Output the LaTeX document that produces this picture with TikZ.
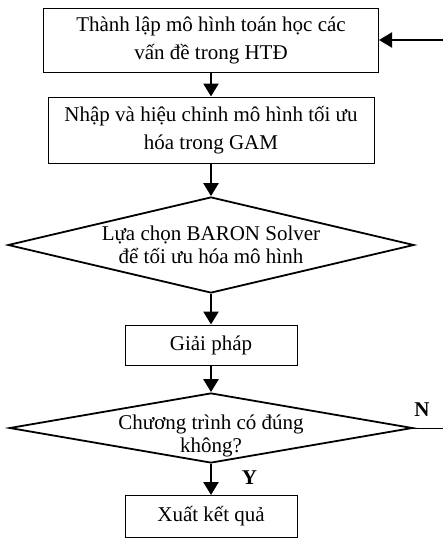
\documentclass[tikz,border=0pt]{standalone}
\usepackage{fontspec}
\setmainfont{Liberation Serif}
\usetikzlibrary{arrows.meta,shapes.geometric}
\tikzset{
  procbox/.style={draw,line width=1pt,inner sep=0pt,align=center,font=\fontsize{21}{28}\selectfont},
  decide/.style={draw,diamond,line width=1.8pt,inner sep=-8pt,align=center,font=\fontsize{21}{22.5}\selectfont},
  flow/.style={-{Triangle[length=13pt,width=15pt]},line width=2.5pt},
  yn/.style={font=\fontsize{21}{24}\selectfont\bfseries}
}
\begin{document}
\begin{tikzpicture}[x=1pt,y=-1pt]
\useasboundingbox (0,0) rectangle (443,539);
\node[procbox,minimum width=335pt,minimum height=64pt] (lap) at (211,40) {Thành lập mô hình toán học các\\vấn đề trong HTĐ};
\node[procbox,minimum width=326pt,minimum height=66pt] (nhap) at (211,130) {Nhập và hiệu chỉnh mô hình tối ưu\\hóa trong GAM};
\node[decide,shape aspect=4.23,minimum width=406pt,minimum height=96pt] (chon) at (211,245) {Lựa chọn BARON Solver\\để tối ưu hóa mô hình};
\node[procbox,minimum width=172pt,minimum height=40pt] (giai) at (211,345) {Giải pháp};
% text of this diamond sits a little low
\node[decide,shape aspect=5.76,minimum width=403pt,minimum height=70pt,
  label={[align=center,font=\fontsize{21}{22.5}\selectfont,yshift=-8pt]center:Chương trình có đúng\\không?}] (kiem) at (211,428) {};
\node[procbox,minimum width=172pt,minimum height=42pt] (xuat) at (211,516.5) {Xuất kết quả};
\coordinate (vao) at (443,40);
\coordinate (ra) at (443,428);
\draw[flow] (lap.south) -- (nhap.north);
\draw[flow] (nhap.south) -- (chon.north);
\draw[flow] (chon.south) -- (giai.north);
\draw[flow] (giai.south) -- (kiem.north);
\draw[flow] (kiem.south) -- (xuat.north);
\draw[flow,line width=2pt] (vao) -- (lap.east);
\draw[line width=1pt] (kiem.east) -- (ra);
\node[yn] (nhanN) at (422,409.5) {N};
\node[yn] (nhanY) at (249.5,477.5) {Y};
\end{tikzpicture}
\end{document}
